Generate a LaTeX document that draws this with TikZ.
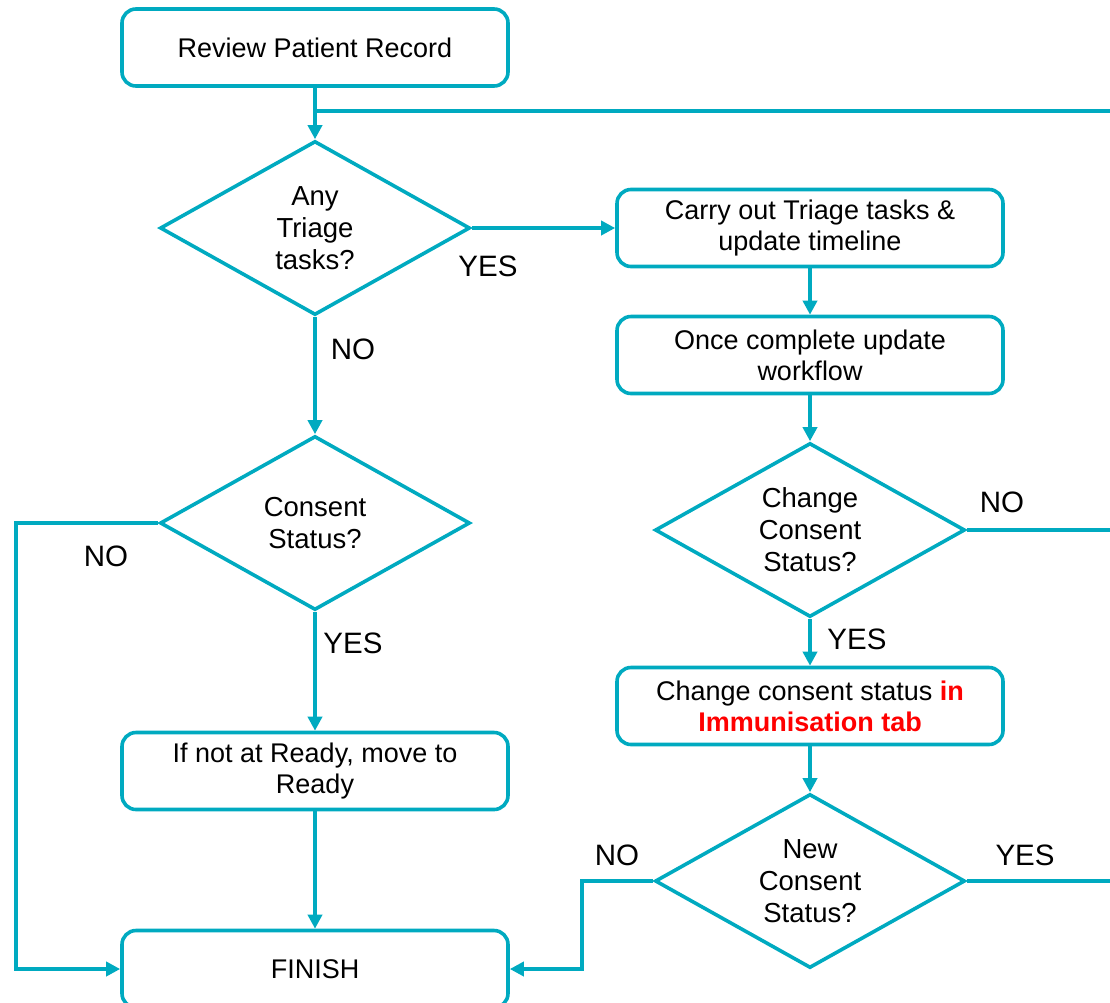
\documentclass[tikz,border=0pt]{standalone}
\usepackage{fontspec}
\setmainfont{Liberation Sans}
\usetikzlibrary{shapes.geometric,arrows.meta}
\definecolor{tealline}{RGB}{0,170,192}
\definecolor{redtext}{RGB}{255,0,0}
\begin{document}
\begin{tikzpicture}[x=1pt,y=-1pt,
  font=\fontsize{27}{31}\selectfont,
  flow/.style={draw=tealline, line width=3.6pt},
  box/.style={flow, rounded corners=14pt, minimum width=386pt, minimum height=77pt, align=center, inner sep=0pt},
  dia/.style={flow, diamond, shape aspect=1.78, minimum width=310pt, minimum height=174pt, align=center, inner sep=0pt, font=\fontsize{27.5}{32}\selectfont},
  arr/.style={flow, -{Triangle[length=14pt,width=14pt]}},
  conn/.style={flow},
  lbl/.style={inner sep=0pt, font=\fontsize{29.5}{32}\selectfont}
]
\useasboundingbox (0,0) rectangle (1110,1002);
\clip (0,0) rectangle (1110,1002);

% nodes
\node[box] (review) at (315,47.5) {Review Patient Record};
\node[dia] (d1) at (315,228) {Any\\Triage\\tasks?};
\node[box] (carry) at (810,228) {Carry out Triage tasks \&\\update timeline};
\node[box] (once) at (810,355) {Once complete update\\workflow};
\node[dia] (d2) at (810,530) {Change\\Consent\\Status?};
\node[box] (change) at (810,706) {Change consent status \textcolor{redtext}{\bfseries in}\\\textcolor{redtext}{\bfseries Immunisation tab}};
\node[dia] (d3) at (810,881) {New\\Consent\\Status?};
\node[dia] (d4) at (315,523) {Consent\\Status?};
\node[box] (ready) at (315,771) {If not at Ready, move to\\Ready};
\node[box] (finish) at (315,969) {FINISH};

% coordinates
\coordinate (j1) at (315,111);
\coordinate (r1) at (1115,111);
\coordinate (r2) at (1115,530);
\coordinate (r3) at (1115,881);
\coordinate (k3) at (582,881);
\coordinate (k4) at (16,523);

% connectors
\draw[arr] (review) -- (d1);
\draw[conn] (j1) -- (r1);
\draw[arr] (d1.east) -- (carry.west);
\draw[arr] (carry) -- (once);
\draw[arr] (once) -- (d2);
\draw[conn] (d2.east) -- (r2);
\draw[arr] (d2) -- (change);
\draw[arr] (change) -- (d3);
\draw[conn] (d3.east) -- (r3);
\draw[arr] (d3.west) -- (k3) |- (finish.east);
\draw[arr] (d1) -- (d4);
\draw[arr] (d4.west) -- (k4) |- (finish.west);
\draw[arr] (d4) -- (ready);
\draw[arr] (ready) -- (finish);

% labels
\node[lbl] (l1) at (488,266) {YES};
\node[lbl] (l2) at (353,349) {NO};
\node[lbl] (l3) at (106,556) {NO};
\node[lbl] (l4) at (353,643) {YES};
\node[lbl] (l5) at (1002,502) {NO};
\node[lbl] (l6) at (857,639) {YES};
\node[lbl] (l7) at (617,855) {NO};
\node[lbl] (l8) at (1025,855) {YES};
\end{tikzpicture}
\end{document}
